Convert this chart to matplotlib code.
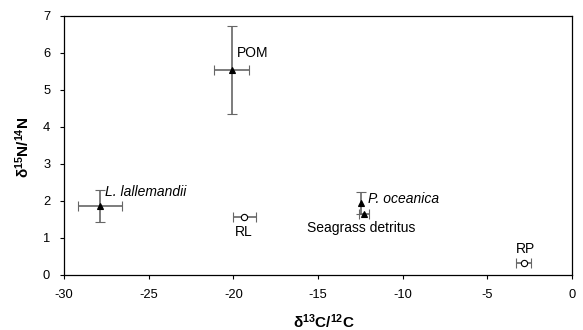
import matplotlib
matplotlib.use("Agg")
import matplotlib.pyplot as plt

plt.rcParams['font.family'] = ['Liberation Sans', 'DejaVu Sans']
plt.rcParams['axes.unicode_minus'] = False
plt.rcParams['mathtext.fontset'] = 'custom'
plt.rcParams['mathtext.rm'] = 'Liberation Sans'
plt.rcParams['mathtext.bf'] = 'Liberation Sans:bold'
plt.rcParams['mathtext.it'] = 'Liberation Sans:italic'

# Data
names = ["POM", "L. lallemandii", "RL", "P. oceanica", "Seagrass detritus", "RP"]
d13C = [-20.1, -27.9, -19.35, -12.45, -12.3, -2.85]
d13C_err = [1.05, 1.3, 0.7, 0.0, 0.3, 0.45]
d15N = [5.54, 1.87, 1.57, 1.95, 1.65, 0.31]
d15N_err = [1.18, 0.43, 0.0, 0.3, 0.0, 0.0]
markers = ["^", "^", "o", "^", "^", "o"]
label_pos = [(-19.8, 6.0), (-27.6, 2.24), (-19.9, 1.16), (-12.05, 2.05), (-15.65, 1.27), (-3.3, 0.7)]
label_italic = [False, True, False, True, False, False]

fig = plt.figure(figsize=(5.83, 3.3), dpi=100)
ax = fig.add_axes([0.110, 0.167, 0.871, 0.785])

for i in range(len(names)):
    filled = markers[i] == "^"
    ax.errorbar(d13C[i], d15N[i],
                xerr=d13C_err[i] if d13C_err[i] > 0 else None,
                yerr=d15N_err[i] if d15N_err[i] > 0 else None,
                fmt=markers[i], ms=5.0 if filled else 4.5,
                mfc='black' if filled else 'white', mec='black', mew=0.8,
                ecolor='#666666', elinewidth=1.2, capsize=3.5, capthick=1.0,
                zorder=3)
    ax.text(label_pos[i][0], label_pos[i][1], names[i], fontsize=10,
            style='italic' if label_italic[i] else 'normal',
            ha='left', va='center', color='black')

ax.set_xlim(-30, 0)
ax.set_ylim(0, 7)
ax.set_xticks([-30, -25, -20, -15, -10, -5, 0])
ax.set_yticks(range(0, 8))
ax.tick_params(direction='out', length=3, width=0.8, labelsize=9.3, colors='black')
ax.tick_params(axis='x', pad=7)
ax.tick_params(axis='y', pad=7)
for s in ax.spines.values():
    s.set_linewidth(0.9)
    s.set_color('black')

fig.text(0.555, 1 - 322 / 330, r'$\mathbf{\delta^{13}C/^{12}C}$', fontsize=11,
         ha='center', va='center')
fig.text(23 / 583, 0.555, r'$\mathbf{\delta^{15}N/^{14}N}$', fontsize=11,
         ha='center', va='center', rotation=90)

fig.savefig("out.png", dpi=100)
